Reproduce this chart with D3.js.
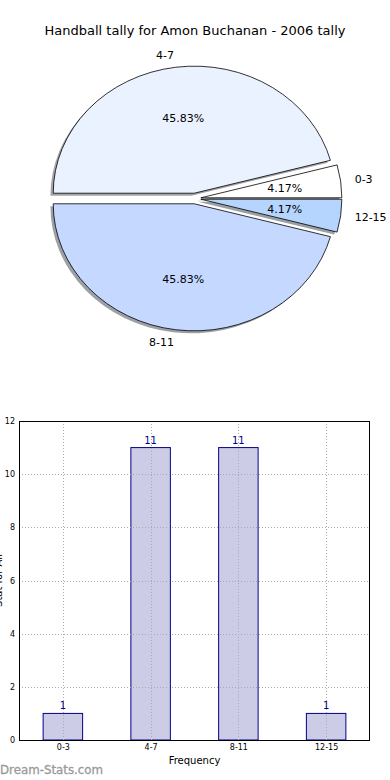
<!DOCTYPE html>
<html><head><meta charset="utf-8">
<script src="https://cdn.jsdelivr.net/npm/d3@7"></script>
<style>body{margin:0;background:#fff}svg{display:block;font-family:"DejaVu Sans",sans-serif}</style>
</head><body><svg id="c" width="390" height="780"></svg>
<script>
const categories = ["0-3","4-7","8-11","12-15"];
const values = [1, 11, 11, 1];
const pieColors = ["#ffffff","#ebf2ff","#c5d8ff","#b5d5ff"];
const yTicks = [0,2,4,6,8,10,12];
const title = "Handball tally for Amon Buchanan - 2006 tally";

const svg = d3.select("#c");
svg.append("text").attr("x",195).attr("y",35).attr("text-anchor","middle")
  .attr("font-size",13).text(title);

// ---- Pie ----
const cx = 195, cy = 198.5, rx = 141, ry = 127, explode = 0.042;
const pie = d3.pie().sort(null).startAngle(Math.PI/2).endAngle(Math.PI/2 - 2*Math.PI);
const arcs = pie(values);
const arc = d3.arc().innerRadius(0).outerRadius(1);
const total = d3.sum(values);
function dir(d){ const a=(d.startAngle+d.endAngle)/2; return [Math.sin(a), -Math.cos(a)]; }
const pg = svg.append("g").attr("transform",`translate(${cx},${cy})`);
function shade(c){ const k=d3.rgb(c); return d3.rgb(k.r*0.3,k.g*0.3,k.b*0.3); }
// shadows
arcs.forEach((d,i)=>{
  const [ux,uy]=dir(d);
  pg.append("g").attr("transform",`translate(${ux*explode*rx-2.8},${uy*explode*ry+2.5}) scale(${rx},${ry})`)
    .append("path").attr("d",arc(d)).attr("fill",shade(pieColors[i])).attr("opacity",0.5);
});
arcs.forEach((d,i)=>{
  const [ux,uy]=dir(d);
  pg.append("g").attr("transform",`translate(${ux*explode*rx},${uy*explode*ry}) scale(${rx},${ry})`)
    .append("path").attr("d",arc(d)).attr("fill",pieColors[i]).attr("stroke","#000")
    .attr("stroke-width",0.8).attr("vector-effect","non-scaling-stroke");
});
arcs.forEach((d,i)=>{
  const [ux,uy]=dir(d);
  const ox=ux*explode*rx, oy=uy*explode*ry;
  pg.append("text").attr("x",ox+ux*0.6*rx).attr("y",oy+uy*0.6*ry).attr("dy","0.35em")
    .attr("text-anchor","middle").attr("font-size",11)
    .text((values[i]/total*100).toFixed(2)+"%");
  pg.append("text").attr("x",ox+ux*1.1*rx).attr("y",oy+uy*1.1*ry).attr("dy","0.35em")
    .attr("text-anchor", ux>0?"start":"end").attr("font-size",11).text(categories[i]);
});

// ---- Bar chart ----
const L=19, R=370, T=421, B=740;
const x = d3.scaleLinear().domain([-0.5,3.5]).range([L,R]);
const y = d3.scaleLinear().domain([0,12]).range([B,T]);
const bw = (x(1)-x(0))*0.45;
const bg = svg.append("g");
bg.selectAll("rect.bar").data(values).join("rect").attr("class","bar")
  .attr("x",(d,i)=>x(i)-bw/2).attr("width",bw)
  .attr("y",d=>y(d)).attr("height",d=>B-y(d))
  .attr("fill","#ccccE6").attr("stroke","#000088").attr("stroke-width",1);
// grid
bg.selectAll("line.gy").data(yTicks).join("line").attr("class","gy")
  .attr("x1",L).attr("x2",R).attr("y1",d=>Math.round(y(d))+0.5).attr("y2",d=>Math.round(y(d))+0.5)
  .attr("stroke","#aaa").attr("stroke-width",1).attr("stroke-dasharray","1,2");
bg.selectAll("line.gx").data(categories).join("line").attr("class","gx")
  .attr("y1",T).attr("y2",B).attr("x1",(d,i)=>Math.round(x(i))+0.5).attr("x2",(d,i)=>Math.round(x(i))+0.5)
  .attr("stroke","#aaa").attr("stroke-width",1).attr("stroke-dasharray","1,2");
// frame
bg.append("rect").attr("x",L+0.5).attr("y",T+0.5).attr("width",R-L-1).attr("height",B-T)
  .attr("fill","none").attr("stroke","#000").attr("stroke-width",1);
// value labels
bg.selectAll("text.val").data(values).join("text").attr("class","val")
  .attr("x",(d,i)=>x(i)).attr("y",d=>y(d)-4).attr("text-anchor","middle")
  .attr("font-size",10).attr("fill","#000088").text(d=>d);
// y ticks
const yAxis = d3.axisLeft(y).tickValues(yTicks).tickSize(0).tickPadding(4);
const ya = bg.append("g").attr("transform",`translate(${L},0)`).call(yAxis);
ya.select(".domain").remove();
ya.selectAll("text").attr("font-size",8).attr("font-family","DejaVu Sans");
// x ticks
const xAxis = d3.axisBottom(x).tickValues([0,1,2,3]).tickFormat(i=>categories[i]).tickSize(0).tickPadding(4);
const xa = bg.append("g").attr("transform",`translate(0,${B})`).call(xAxis);
xa.select(".domain").remove();
xa.selectAll("text").attr("font-size",8).attr("font-family","DejaVu Sans");
svg.append("text").attr("x",(L+R)/2).attr("y",764).attr("text-anchor","middle").attr("font-size",10).text("Frequency");
svg.append("text").attr("transform",`translate(2,${(T+B)/2}) rotate(-90)`).attr("text-anchor","middle")
  .attr("font-size",10).text("Stat for All");
svg.append("text").attr("x",0).attr("y",774).attr("font-size",12)
  .attr("fill","#9a9a9a").attr("stroke","#9a9a9a").attr("stroke-width",0.3)
  .attr("textLength",103).attr("lengthAdjust","spacingAndGlyphs").text("Dream-Stats.com");
</script></body></html>
